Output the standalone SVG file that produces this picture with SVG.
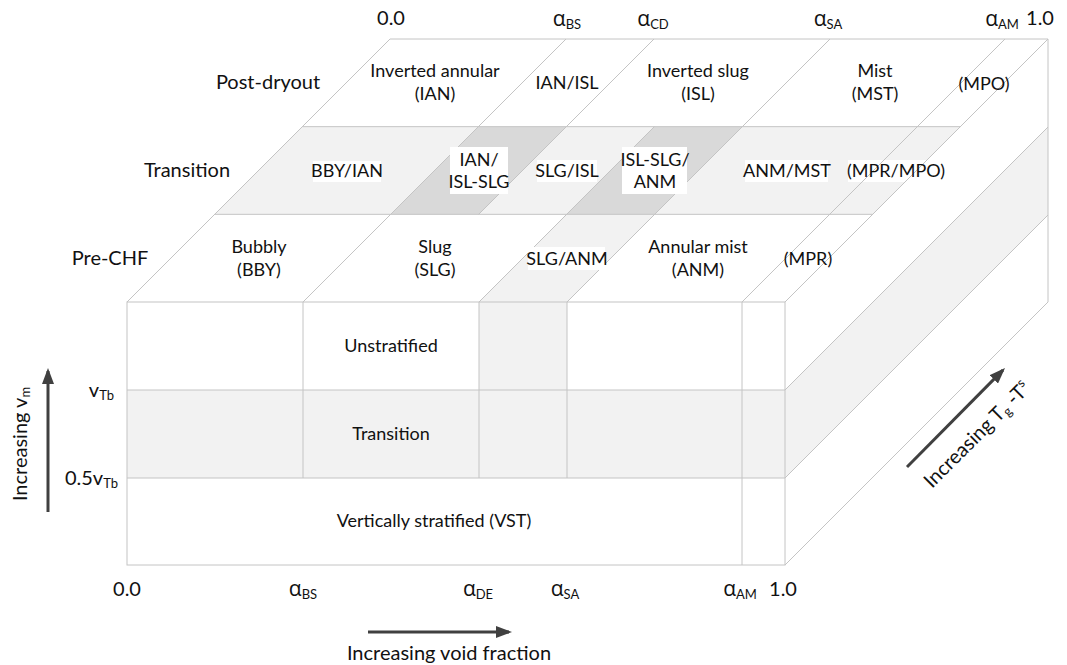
<svg xmlns="http://www.w3.org/2000/svg" width="1067" height="665" viewBox="0 0 1067 665">
<style>
text{font-family:Lato,"Open Sans","DejaVu Sans",sans-serif;fill:#111;text-anchor:middle}
.t{font-size:18px}
.row{font-size:20px}
.ax{font-size:20px}
.al{font-family:"Open Sans","DejaVu Sans",sans-serif;font-size:21px}
.sb{font-size:13px}
.ln{stroke:#c4c4c4;stroke-width:1;fill:none}
.lt{fill:#f2f2f2}
.dk{fill:#d9d9d9}
.wb{fill:#ffffff}
.arr{stroke:#404040;stroke-width:3;fill:none;marker-end:url(#ah)}
</style>
<defs>
<marker id="ah" markerUnits="userSpaceOnUse" viewBox="0 0 16 12" refX="13" refY="6" markerWidth="16" markerHeight="12" orient="auto">
<path d="M0,0 L16,6 L0,12 z" fill="#404040"/>
</marker>
</defs>
<rect width="1067" height="665" fill="#ffffff"/>

<g id="faces">
<polygon class="wb" points="127,302 785,302 1048,39 390,39"/>
<polygon class="lt" points="214.67,214.33 872.67,214.33 960.33,126.67 302.33,126.67"/>
<polygon class="dk" points="390.67,214.33 478.67,214.33 566.33,126.67 478.33,126.67"/>
<polygon class="dk" points="566.67,214.33 654.67,214.33 742.33,126.67 654.33,126.67"/>
<polygon class="lt" points="479,302 567,302 654.67,214.33 566.67,214.33"/>
<polygon class="wb" points="785,302 1048,39 1048,302 785,565"/>
<polygon class="lt" points="785,390 1048,127 1048,215 785,478"/>
<rect class="wb" x="127" y="302" width="658" height="263"/>
<rect class="lt" x="127" y="390" width="658" height="88"/>
<rect class="lt" x="479" y="302" width="88" height="88"/>
</g>

<g id="mpr-mpo-bg"><rect class="wb" x="848" y="160" width="95" height="22"/></g>

<g id="connectors">
<rect class="ln" x="127" y="302" width="658" height="263"/>
<line class="ln" x1="127" y1="390" x2="785" y2="390"/>
<line class="ln" x1="127" y1="478" x2="785" y2="478"/>
<line class="ln" x1="303" y1="302" x2="303" y2="478"/>
<line class="ln" x1="479" y1="302" x2="479" y2="478"/>
<line class="ln" x1="567" y1="302" x2="567" y2="478"/>
<line class="ln" x1="742" y1="302" x2="742" y2="565"/>
<line class="ln" x1="390" y1="39" x2="1048" y2="39"/>
<line class="ln" x1="302.33" y1="126.67" x2="960.33" y2="126.67"/>
<line class="ln" x1="214.67" y1="214.33" x2="872.67" y2="214.33"/>
<line class="ln" x1="127" y1="302" x2="390" y2="39"/>
<line class="ln" x1="785" y1="302" x2="1048" y2="39"/>
<line class="ln" x1="303" y1="302" x2="566" y2="39"/>
<line class="ln" x1="478.67" y1="214.33" x2="654" y2="39"/>
<line class="ln" x1="479" y1="302" x2="654.33" y2="126.67"/>
<line class="ln" x1="567" y1="302" x2="830" y2="39"/>
<line class="ln" x1="742" y1="302" x2="1005" y2="39"/>
<line class="ln" x1="785" y1="390" x2="1048" y2="127"/>
<line class="ln" x1="785" y1="478" x2="1048" y2="215"/>
<line class="ln" x1="785" y1="565" x2="1048" y2="302"/>
<line class="ln" x1="1048" y1="39" x2="1048" y2="302"/>
<line class="arr" x1="48" y1="512" x2="48" y2="371"/>
<line class="arr" x1="368" y1="632" x2="509" y2="632"/>
<line class="arr" x1="907" y1="467" x2="1002.9" y2="370.1"/>
</g>

<g id="row-labels">
<text class="row" x="268" y="89">Post-dryout</text>
<text class="row" x="187" y="177">Transition</text>
<text class="row" x="110" y="265">Pre-CHF</text>
</g>

<g id="post-dryout">
<g id="ian"><text class="t" x="435" y="77">Inverted annular</text><text class="t" x="435" y="100">(IAN)</text></g>
<g id="ian-isl"><text class="t" x="567" y="89">IAN/ISL</text></g>
<g id="isl"><text class="t" x="698" y="77">Inverted slug</text><text class="t" x="698" y="100">(ISL)</text></g>
<g id="mst"><text class="t" x="875" y="77">Mist</text><text class="t" x="875" y="100">(MST)</text></g>
<g id="mpo"><text class="t" x="984" y="90">(MPO)</text></g>
</g>

<g id="transition">
<g id="bby-ian"><rect class="wb" x="313" y="161" width="68" height="21"/><text class="t" x="347" y="177">BBY/IAN</text></g>
<g id="ian-isl-slg"><rect class="wb" x="450" y="147" width="58" height="47"/><text class="t" x="479" y="166">IAN/</text><text class="t" x="479" y="188">ISL-SLG</text></g>
<g id="slg-isl"><rect class="wb" x="537" y="160" width="60" height="22"/><text class="t" x="567" y="177">SLG/ISL</text></g>
<g id="isl-slg-anm"><rect class="wb" x="622" y="147" width="65" height="47"/><text class="t" x="655" y="166">ISL-SLG/</text><text class="t" x="655" y="188">ANM</text></g>
<g id="anm-mst"><rect class="wb" x="745" y="160" width="83" height="22"/><text class="t" x="787" y="177">ANM/MST</text></g>
<g id="mpr-mpo"><text class="t" x="896" y="177">(MPR/MPO)</text></g>
</g>

<g id="pre-chf">
<g id="bby"><text class="t" x="259" y="253">Bubbly</text><text class="t" x="259" y="276">(BBY)</text></g>
<g id="slg"><text class="t" x="435" y="253">Slug</text><text class="t" x="435" y="276">(SLG)</text></g>
<g id="slg-anm"><rect class="wb" x="528" y="247" width="77" height="23"/><text class="t" x="567" y="265">SLG/ANM</text></g>
<g id="anm"><text class="t" x="698" y="253">Annular mist</text><text class="t" x="698" y="276">(ANM)</text></g>
<g id="mpr"><text class="t" x="808" y="265">(MPR)</text></g>
</g>

<g id="front">
<g id="unstratified"><text class="t" x="391" y="352">Unstratified</text></g>
<g id="front-transition"><text class="t" x="391" y="440">Transition</text></g>
<g id="vst"><text class="t" x="434" y="527">Vertically stratified (VST)</text></g>
</g>

<g id="top-axis">
<text class="ax" x="391" y="25">0.0</text>
<text class="ax" x="567" y="26"><tspan class="al">α</tspan><tspan class="sb" dy="3">BS</tspan></text>
<text class="ax" x="653" y="26"><tspan class="al">α</tspan><tspan class="sb" dy="3">CD</tspan></text>
<text class="ax" x="828" y="26"><tspan class="al">α</tspan><tspan class="sb" dy="3">SA</tspan></text>
<text class="ax" x="1002" y="26"><tspan class="al">α</tspan><tspan class="sb" dy="3">AM</tspan></text>
<text class="ax" x="1040" y="25">1.0</text>
</g>

<g id="bottom-axis">
<text class="ax" x="127" y="596">0.0</text>
<text class="ax" x="303" y="596"><tspan class="al">α</tspan><tspan class="sb" dy="3">BS</tspan></text>
<text class="ax" x="478" y="596"><tspan class="al">α</tspan><tspan class="sb" dy="3">DE</tspan></text>
<text class="ax" x="565" y="596"><tspan class="al">α</tspan><tspan class="sb" dy="3">SA</tspan></text>
<text class="ax" x="740" y="596"><tspan class="al">α</tspan><tspan class="sb" dy="3">AM</tspan></text>
<text class="ax" x="783" y="596">1.0</text>
<text class="ax" x="449" y="660">Increasing void fraction</text>
</g>

<g id="left-axis">
<text class="ax" style="text-anchor:end" x="114" y="397">v<tspan class="sb" dy="3">Tb</tspan></text>
<text class="ax" style="text-anchor:end" x="118" y="485">0.5v<tspan class="sb" dy="3">Tb</tspan></text>
<text class="ax" x="27" y="444" transform="rotate(-90 27 444)">Increasing v<tspan class="sb" dy="3">m</tspan></text>
</g>

<g id="depth-axis">
<text class="ax" style="text-anchor:start" x="932" y="489" transform="rotate(-45 932 489)">Increasing T<tspan class="sb" dy="3">g</tspan><tspan dy="-3"> -T</tspan><tspan class="sb" dy="-8">s</tspan></text>
</g>
</svg>
